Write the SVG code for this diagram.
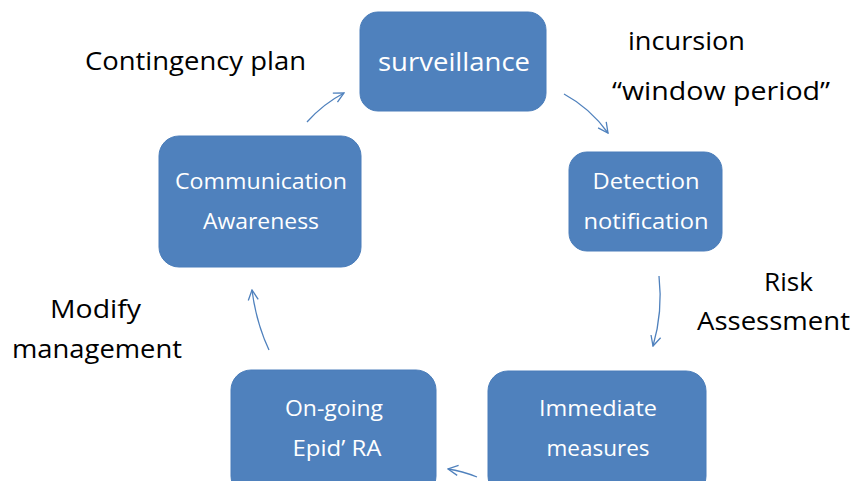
<svg xmlns="http://www.w3.org/2000/svg" width="854" height="481" viewBox="0 0 854 481">
<defs>
<style>
.box{fill:#4F81BD;stroke:#4A7DBA;stroke-width:1}
.bt{fill:#FFFFFF;font-family:"Open Sans","Liberation Sans",sans-serif;font-size:22px;text-anchor:middle}
.lbl{fill:#000000;font-family:"Open Sans","Liberation Sans",sans-serif;font-size:26px;text-anchor:middle}
.con{fill:none;stroke:#4F81BD;stroke-width:1.3}
</style>
<marker id="ah" viewBox="0 0 12 12" refX="11" refY="6" markerWidth="12" markerHeight="12" markerUnits="userSpaceOnUse" orient="auto">
<path d="M1,1 L11,6 L1,11" fill="none" stroke="#4F81BD" stroke-width="1.3"/>
</marker>
</defs>
<rect width="854" height="481" fill="#FFFFFF"/>
<g id="surveillance">
<rect class="box" x="360" y="12" width="186" height="99" rx="18"/>
<text class="bt" x="454" y="71" style="font-size:26px" textLength="152" lengthAdjust="spacingAndGlyphs">surveillance</text>
</g>
<g id="detection">
<rect class="box" x="569" y="152" width="153" height="99" rx="18"/>
<text class="bt" x="646" y="189" textLength="107" lengthAdjust="spacingAndGlyphs">Detection</text>
<text class="bt" x="646" y="229" textLength="125" lengthAdjust="spacingAndGlyphs">notification</text>
</g>
<g id="immediate">
<rect class="box" x="488" y="371" width="218" height="125" rx="20"/>
<text class="bt" x="598" y="416" textLength="118" lengthAdjust="spacingAndGlyphs">Immediate</text>
<text class="bt" x="598" y="456" textLength="103" lengthAdjust="spacingAndGlyphs">measures</text>
</g>
<g id="ongoing">
<rect class="box" x="231" y="370" width="205" height="126" rx="20"/>
<text class="bt" x="334" y="416" textLength="98" lengthAdjust="spacingAndGlyphs">On-going</text>
<text class="bt" x="337" y="456" textLength="89" lengthAdjust="spacingAndGlyphs">Epid’ RA</text>
</g>
<g id="communication">
<rect class="box" x="159" y="136" width="202" height="131" rx="20"/>
<text class="bt" x="261" y="189" textLength="172" lengthAdjust="spacingAndGlyphs">Communication</text>
<text class="bt" x="261" y="229" textLength="116" lengthAdjust="spacingAndGlyphs">Awareness</text>
</g>
<g id="connectors">
<path class="con" marker-end="url(#ah)" d="M307,122 Q323,104 344,93"/>
<path class="con" marker-end="url(#ah)" d="M564,94 Q590,108 608,133"/>
<path class="con" marker-end="url(#ah)" d="M659,276 Q663,312 653,346"/>
<path class="con" marker-end="url(#ah)" d="M477,477 Q462,471 448,469"/>
<path class="con" marker-end="url(#ah)" d="M269,350 Q256,322 252,290"/>
</g>
<g id="labels">
<text class="lbl" x="195.5" y="70" textLength="221" lengthAdjust="spacingAndGlyphs">Contingency plan</text>
<text class="lbl" x="686.5" y="50" textLength="117" lengthAdjust="spacingAndGlyphs">incursion</text>
<text class="lbl" x="721" y="100" textLength="218" lengthAdjust="spacingAndGlyphs">“window period”</text>
<text class="lbl" x="788.5" y="291" textLength="49" lengthAdjust="spacingAndGlyphs">Risk</text>
<text class="lbl" x="773.5" y="330" textLength="153" lengthAdjust="spacingAndGlyphs">Assessment</text>
<text class="lbl" x="95.5" y="318" textLength="91" lengthAdjust="spacingAndGlyphs">Modify</text>
<text class="lbl" x="97" y="358" textLength="170" lengthAdjust="spacingAndGlyphs">management</text>
</g>
</svg>
